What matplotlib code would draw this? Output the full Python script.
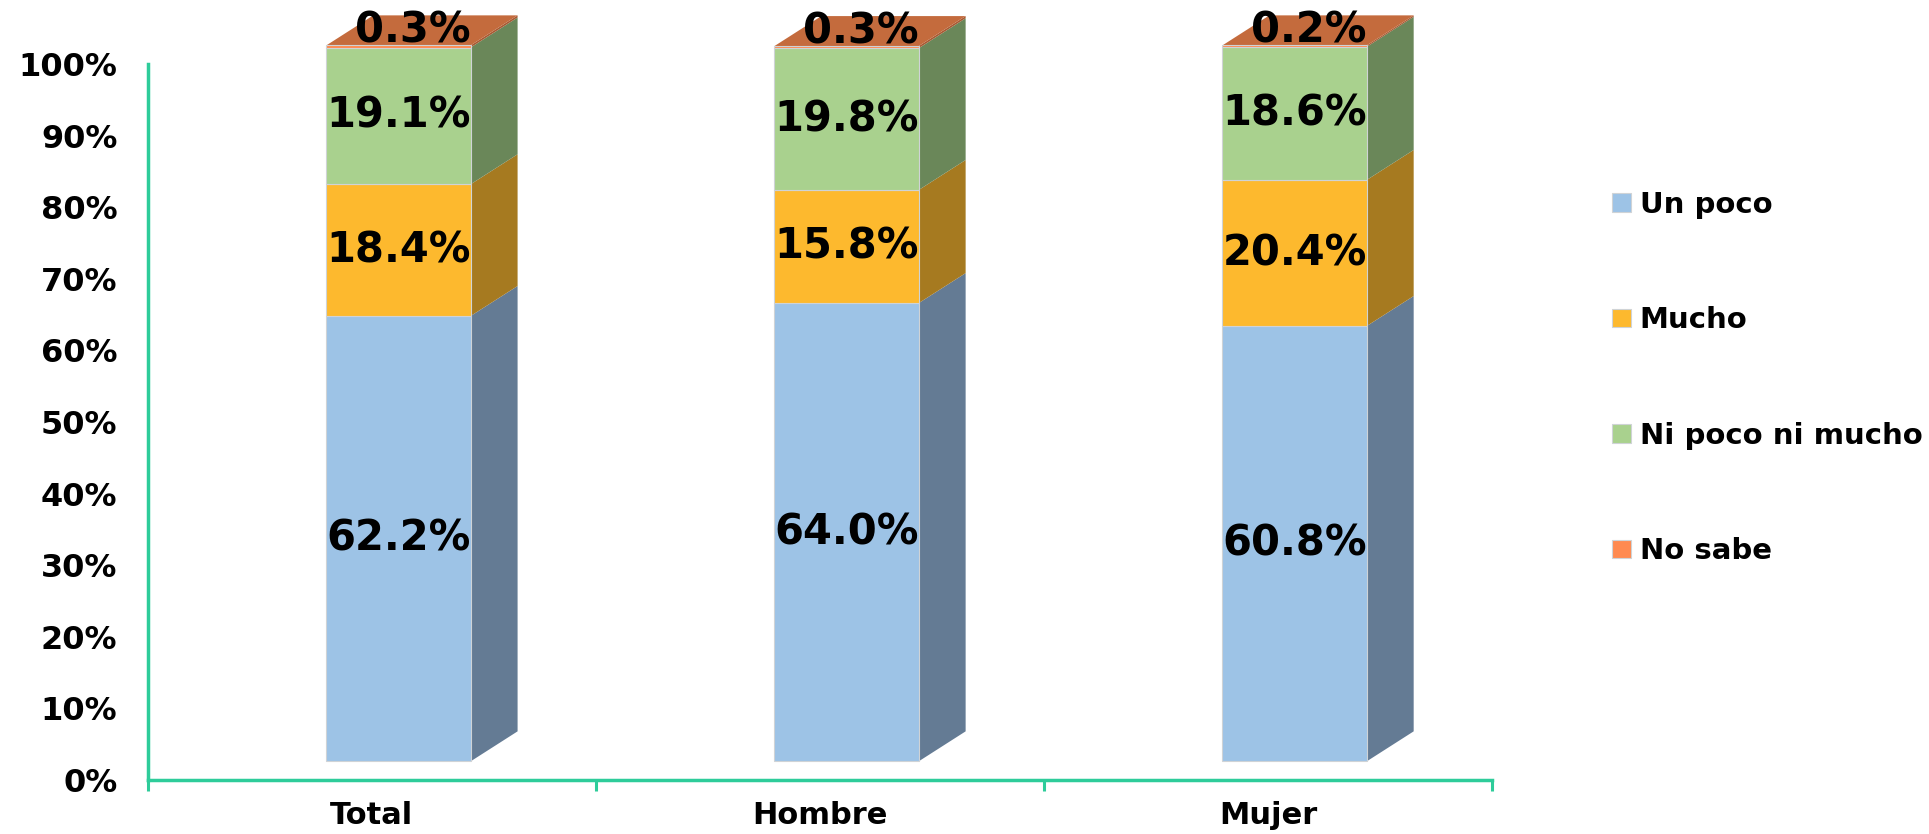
import numpy as np
import matplotlib.pyplot as plt
from matplotlib.patches import Polygon

plt.rcParams['font.family'] = 'DejaVu Sans'
plt.rcParams['font.weight'] = 'bold'

# Data (percent of each group)
categories = ['Total', 'Hombre', 'Mujer']
series = ['Un poco', 'Mucho', 'Ni poco ni mucho', 'No sabe']
un_poco = [62.2, 64.0, 60.8]
mucho = [18.4, 15.8, 20.4]
ni_poco = [19.1, 19.8, 18.6]
no_sabe = [0.3, 0.3, 0.2]
values = [un_poco, mucho, ni_poco, no_sabe]

front_colors = ['#9DC3E6', '#FDB92E', '#A9D18E', '#FF8A50']
side_colors = ['#647B94', '#A67A20', '#6A8759', '#A85A33']
top_color = '#C46B3D'
axis_color = '#2ECC9A'

# fake 3D geometry (data units)
bar_w = 0.322
bar_left = 0.398
depth_x = 0.105
depth_y = 4.2
lift = 2.6

fig = plt.figure(figsize=(19.29, 8.34), dpi=100)
ax = fig.add_axes([0.0767, 0.0647, 0.6968, 0.8585])

x = np.arange(len(categories))
bottoms = np.zeros(len(categories))
for k, (name, vals) in enumerate(zip(series, values)):
    vals = np.array(vals)
    centers = x + bar_left + bar_w / 2
    ax.bar(centers, vals, width=bar_w, bottom=bottoms + lift,
           color=front_colors[k], edgecolor='#cfd3d6', linewidth=0.8,
           label=name, zorder=3, clip_on=False)
    for i in range(len(categories)):
        x1 = x[i] + bar_left + bar_w
        yb = bottoms[i] + lift
        yt = yb + vals[i]
        side = Polygon([(x1, yb), (x1 + depth_x, yb + depth_y),
                        (x1 + depth_x, yt + depth_y), (x1, yt)],
                       closed=True, facecolor=side_colors[k], edgecolor='none',
                       zorder=2, clip_on=False)
        ax.add_patch(side)
        label_y = yb + vals[i] / 2
        label_x = centers[i]
        if k == len(series) - 1:
            x0 = x[i] + bar_left
            top = Polygon([(x0, yt), (x1, yt), (x1 + depth_x, yt + depth_y),
                           (x0 + depth_x, yt + depth_y)],
                          closed=True, facecolor=top_color, edgecolor='none',
                          zorder=2, clip_on=False)
            ax.add_patch(top)
            label_y = yt + depth_y / 2
            label_x = centers[i] + depth_x * 0.3
        ax.text(label_x, label_y, f'{vals[i]:.1f}%', ha='center', va='center',
                fontsize=30, fontweight='bold', color='black', zorder=5,
                clip_on=False)
    bottoms = bottoms + vals

ax.set_xlim(0, 3)
ax.set_ylim(0, 100)
ax.set_yticks(np.arange(0, 101, 10))
ax.set_yticklabels([f'{v}%' for v in range(0, 101, 10)])
ax.tick_params(axis='y', length=0, pad=22, labelsize=23)

ax.set_xticks([0, 1, 2, 3])
ax.set_xticklabels([])
ax.set_xticks(x + 0.5, minor=True)
ax.set_xticklabels(categories, minor=True)
ax.tick_params(axis='x', which='major', length=8, width=2.2, color=axis_color, direction='out')
ax.tick_params(axis='x', which='minor', length=0, pad=15, labelsize=22)

for s in ['top', 'right']:
    ax.spines[s].set_visible(False)
for s in ['left', 'bottom']:
    ax.spines[s].set_color(axis_color)
    ax.spines[s].set_linewidth(2.5)

fig.legend(loc='center left', bbox_to_anchor=(0.8357, 0.547), frameon=False,
           fontsize=21, labelspacing=3.0, handlelength=0.65, handleheight=0.6,
           handletextpad=0.3, borderpad=0, borderaxespad=0)

fig.savefig('out.png', dpi=100)
